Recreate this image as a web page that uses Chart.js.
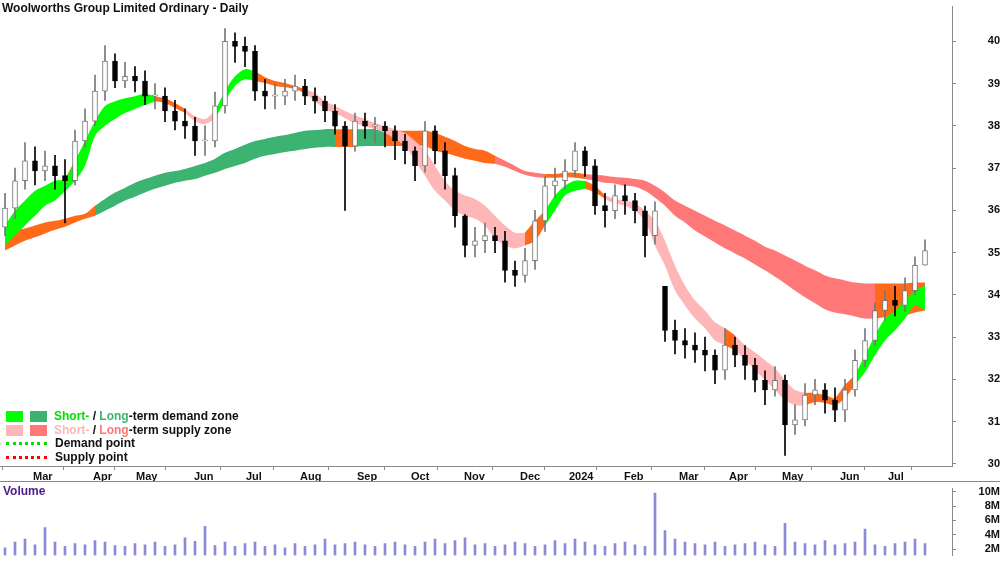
<!DOCTYPE html>
<html>
<head>
<meta charset="utf-8">
<script src="https://cdn.jsdelivr.net/npm/chart.js@4"></script>
<style>
  body { margin: 0; width: 1000px; height: 562px; background: #fff; font-family: Arial, "Liberation Sans", sans-serif; overflow: hidden; position: relative; }
  #price { position: absolute; left: 0; top: 0; }
  #vol { position: absolute; left: 0; top: 482px; }
  .sep { position: absolute; left: 0; top: 481px; width: 1000px; height: 1px; background: #888; }
  .titulo { position: absolute; left: 2px; top: 1px; font-size: 12px; font-weight: bold; color: #111; }
  .vol-label { position: absolute; left: 3px; top: 484px; font-size: 12px; font-weight: bold; color: #4b1a8a; }
  .leyenda { position: absolute; left: 6px; top: 410px; font-size: 12px; font-weight: bold; color: #111; line-height: 13.5px; }
  .leyenda div { display: flex; align-items: center; height: 13.5px; }
  .sw { display: inline-block; width: 17px; height: 11px; margin-right: 7px; }
  .dot { display: inline-block; width: 41px; margin-right: 8px; border-top: 3px dotted; }
</style>
</head>
<body>
<canvas id="price" width="1000" height="481" style="width:1000px;height:481px"></canvas>
<div class="sep"></div>
<canvas id="vol" width="1000" height="80" style="width:1000px;height:80px"></canvas>
<div class="titulo">Woolworths Group Limited Ordinary - Daily</div>
<div class="vol-label">Volume</div>
<div class="leyenda">
  <div><span class="sw" style="background:#00ff00"></span><span class="sw" style="background:#3cb371"></span><span style="color:#00e000">Short-</span>&nbsp;/&nbsp;<span style="color:#3cb371">Long</span>-term demand zone</div>
  <div><span class="sw" style="background:#ffb6b6"></span><span class="sw" style="background:#ff7777"></span><span style="color:#ffb6b6">Short-</span>&nbsp;/&nbsp;<span style="color:#ff7777">Long</span>-term supply zone</div>
  <div><span class="dot" style="border-color:#00dd00"></span>Demand point</div>
  <div><span class="dot" style="border-color:#ff0000"></span>Supply point</div>
</div>
<script>
const closes = [36.05,36.7,37.17,36.93,37.05,36.82,36.7,37.64,38.11,38.82,39.53,39.06,39.17,39.06,38.7,38.7,38.35,38.11,37.99,37.64,
  37.64,38.47,40.0,39.88,39.76,38.82,38.7,38.7,38.82,38.94,38.7,38.58,38.35,37.99,37.52,38.11,37.99,37.99,37.88,37.64,
  37.41,37.05,37.88,37.41,36.82,35.87,35.17,35.28,35.4,35.28,34.58,34.46,34.81,35.75,36.58,36.7,36.93,37.41,37.05,36.11,
  35.99,36.35,36.23,35.99,35.4,35.99,33.16,32.92,32.81,32.69,32.57,32.22,32.81,32.57,32.33,31.98,31.75,31.98,30.92,31.04,
  31.63,31.75,31.51,31.27,31.75,32.45,32.92,33.63,33.87,33.75,34.1,34.7,35.05];
const opens = [35.6,36.05,36.7,37.17,36.93,37.05,36.82,36.7,37.64,38.11,38.82,39.53,39.06,39.17,39.06,38.7,38.7,38.35,38.11,37.99,
  37.64,37.64,38.47,40.0,39.88,39.76,38.82,38.7,38.7,38.82,38.94,38.7,38.58,38.35,37.99,37.52,38.11,37.99,37.99,37.88,
  37.64,37.41,37.05,37.88,37.41,36.82,35.87,35.17,35.28,35.4,35.28,34.58,34.46,34.81,35.75,36.58,36.7,36.93,37.41,37.05,
  36.11,35.99,36.35,36.23,35.99,35.4,34.2,33.16,32.92,32.81,32.69,32.57,32.22,32.81,32.57,32.33,31.98,31.75,31.98,30.92,
  31.04,31.63,31.75,31.51,31.27,31.75,32.45,32.92,33.63,33.87,33.75,34.1,34.7];
const highs = [36.4,37.0,37.6,37.5,37.4,37.3,37.2,37.9,38.4,39.2,39.9,39.7,39.5,39.4,39.3,39.0,38.9,38.6,38.4,38.2,
  38.0,38.8,40.3,40.2,40.1,39.9,39.1,39.0,39.1,39.2,39.1,38.9,38.7,38.5,38.1,38.3,38.3,38.2,38.1,38.0,
  37.8,37.5,38.1,38.0,37.6,37.0,35.9,35.6,35.7,35.6,35.5,34.8,35.1,36.0,36.8,37.0,37.2,37.6,37.5,37.2,
  36.4,36.6,36.6,36.4,36.1,36.2,34.1,33.4,33.2,33.1,33.0,32.7,33.2,33.0,32.8,32.5,32.2,32.3,32.1,31.4,
  31.9,32.0,31.9,31.8,32.0,32.7,33.2,33.8,34.1,34.2,34.4,34.9,35.3];
const lows = [35.4,35.8,36.5,36.6,36.7,36.5,35.7,36.6,37.5,38.0,38.6,38.9,38.9,38.8,38.5,38.4,38.1,37.9,37.7,37.3,
  37.3,37.5,38.3,39.5,39.4,38.6,38.4,38.4,38.5,38.6,38.5,38.3,38.1,37.8,36.0,37.4,37.7,37.6,37.5,37.2,
  37.1,36.7,36.9,37.1,36.5,35.6,34.9,34.9,35.0,35.0,34.3,34.2,34.3,34.6,35.5,36.3,36.5,36.8,36.8,35.9,
  35.6,35.8,35.9,35.7,34.9,35.2,32.9,32.6,32.5,32.4,32.2,31.9,32.0,32.3,32.0,31.7,31.4,31.6,30.2,30.7,
  30.9,31.4,31.2,31.0,31.0,31.6,32.3,32.8,33.4,33.5,33.6,34.0,34.7];
// short-term zone: upper/lower and state (g = demand, p = supply, o = overlap)
const shortTop = [35.64,35.99,36.23,36.46,36.58,36.70,36.74,37.17,37.64,38.11,38.47,38.58,38.65,38.70,38.75,38.70,38.65,38.54,38.40,38.23,
  38.16,38.35,38.82,39.17,39.34,39.29,39.15,39.06,39.01,38.94,38.87,38.77,38.58,38.47,38.35,38.25,38.16,38.06,37.99,37.92,
  37.83,37.64,37.41,37.05,36.70,36.46,36.35,36.27,36.11,35.87,35.64,35.47,35.47,35.75,35.99,36.35,36.58,36.70,36.70,36.58,
  36.35,36.27,36.23,36.16,35.99,35.75,35.28,34.69,34.22,33.87,33.63,33.35,33.21,33.04,32.81,32.64,32.45,32.26,31.98,31.75,
  31.68,31.68,31.63,31.56,31.87,32.10,32.57,33.04,33.44,33.63,33.87,34.10,34.22];
const shortBot = [35.17,35.40,35.64,35.87,36.11,36.23,36.46,36.70,37.05,37.76,38.00,38.16,38.30,38.40,38.49,38.58,38.54,38.42,38.30,38.11,
  38.04,38.16,38.58,38.94,39.10,39.06,39.01,38.94,38.91,38.87,38.77,38.58,38.40,38.30,38.18,38.06,37.99,37.92,37.83,37.69,
  37.52,37.17,36.82,36.46,36.23,35.99,35.87,35.80,35.64,35.33,35.17,35.10,35.17,35.28,35.64,35.99,36.35,36.46,36.51,36.42,
  36.27,36.16,36.11,35.99,35.75,35.17,34.69,34.10,33.75,33.44,33.21,32.92,32.81,32.69,32.45,32.22,31.98,31.75,31.51,31.39,
  31.39,31.46,31.44,31.39,31.56,31.87,32.17,32.57,32.92,33.16,33.44,33.75,33.63];
const shortState = ['g','g','g','g','g','g','o','g','g','g','g','g','g','g','g','o','o','o','p','p',
  'p','g','g','g','g','o','o','o','o','o','p','p','p','p','p','p','p','p','p','p',
  'p','p','p','p','p','p','p','p','p','p','p','p','o','o','g','g','g','g','o','o',
  'p','p','p','p','p','p','p','p','p','p','p','p','o','p','p','p','p','p','p','p',
  'o','o','o','p','o','g','g','g','g','g','g','g','g'];
// long-term zone: upper/lower and state (G = demand, P = supply, o = overlap)
const longTop = [35.40,35.52,35.57,35.64,35.71,35.75,35.80,35.87,35.92,36.11,36.27,36.42,36.53,36.65,36.74,36.82,36.89,36.93,36.98,37.05,
  37.12,37.22,37.36,37.45,37.55,37.64,37.69,37.74,37.78,37.83,37.88,37.90,37.92,37.92,37.92,37.92,37.92,37.92,37.88,37.88,
  37.88,37.88,37.88,37.83,37.74,37.64,37.52,37.45,37.41,37.29,37.17,37.05,36.93,36.89,36.86,36.86,36.89,36.89,36.86,36.84,
  36.82,36.79,36.77,36.74,36.70,36.58,36.42,36.23,36.11,35.99,35.87,35.75,35.64,35.52,35.40,35.28,35.14,35.05,34.93,34.81,
  34.69,34.58,34.46,34.39,34.34,34.29,34.27,34.27,34.27,34.27,34.27,34.29,34.29];
const longBot = [35.05,35.17,35.28,35.36,35.45,35.54,35.61,35.71,35.80,35.87,35.99,36.11,36.23,36.32,36.42,36.51,36.58,36.65,36.70,36.74,
  36.82,36.89,36.98,37.05,37.12,37.22,37.29,37.33,37.38,37.41,37.45,37.48,37.50,37.50,37.50,37.50,37.52,37.52,37.52,37.52,
  37.52,37.52,37.52,37.41,37.36,37.29,37.22,37.17,37.12,37.10,37.03,36.93,36.84,36.79,36.77,36.77,36.79,36.77,36.74,36.70,
  36.65,36.63,36.58,36.56,36.46,36.30,36.11,35.87,35.71,35.52,35.38,35.24,35.10,34.98,34.86,34.72,34.58,34.43,34.27,34.10,
  33.94,33.80,33.66,33.58,33.54,33.49,33.44,33.44,33.47,33.49,33.51,33.58,33.63];
const longState = ['o','o','o','o','o','o','o','o','o','G','G','G','G','G','G','G','G','G','G','G',
  'G','G','G','G','G','G','G','G','G','G','G','G','G','o','o','G','G','G','o','o',
  'o','o','o','o','o','o','o','o','o','P','P','P','P','P','o','o','o','o','P','P',
  'P','P','P','P','P','P','P','P','P','P','P','P','P','P','P','P','P','P','P','P',
  'P','P','P','P','P','P','P','o','o','o','o','o','o'];
const volumes = [2.2,3.0,3.4,2.6,5.0,3.0,2.4,2.8,2.6,3.2,3.0,2.5,2.4,2.8,2.6,3.0,2.4,2.6,3.6,3.1,
  5.2,2.5,3.0,2.4,2.8,3.0,2.4,2.6,2.2,2.8,2.4,2.6,3.4,2.6,2.8,3.0,2.6,2.4,2.8,3.0,
  2.6,2.4,3.0,3.4,2.8,3.2,3.6,2.6,2.8,2.4,2.6,3.0,2.8,2.4,2.6,3.2,2.8,3.4,3.0,2.6,
  2.4,2.8,3.0,2.6,2.4,9.8,4.6,3.4,3.0,2.8,2.6,3.0,2.4,2.6,2.8,3.0,2.6,2.4,5.6,3.0,
  2.8,2.6,3.2,2.6,2.8,3.0,4.8,2.6,2.4,2.8,3.0,3.4,2.8];
const monthTicks = [2.8,8.8,13.1,18.9,24.1,29.5,35.2,40.6,45.9,51.5,56.4,61.9,67.4,72.4,77.7,83.5,88.3];
const monthLabels = ['Mar','Apr','May','Jun','Jul','Aug','Sep','Oct','Nov','Dec','2024','Feb','Mar','Apr','May','Jun','Jul'];
const priceTicks = [30,31,32,33,34,35,36,37,38,39,40];
const volTicks = [2,4,6,8,10];

const colores = { g: '#00ff00', p: '#ffb6b6', o: '#ff6a1a', G: '#3cb371', P: '#ff7777' };
const X_MIN = -0.5, X_MAX = 94.7;
const VOL_MIN = 1.14, VOL_MAX = 10.43;

function bandDatasets(top, bot, states, order) {
    const out = [];
    [...new Set(states)].forEach(s => {
        const keep = i => states[i] === s || (i > 0 && states[i - 1] === s);
        const up = top.map((v, i) => ({ x: i, y: keep(i) ? v : null }));
        const dn = bot.map((v, i) => ({ x: i, y: keep(i) ? v : null }));
        out.push({ type: 'line', data: up, borderWidth: 0, pointRadius: 0, tension: 0.3, fill: false, order, spanGaps: false });
        out.push({ type: 'line', data: dn, borderWidth: 0, pointRadius: 0, tension: 0.3, fill: '-1',
            backgroundColor: colores[s], order, spanGaps: false });
    });
    return out;
}

// fix the plot box so both panels line up with the reference
const fixWidth = w => axis => { axis.width = w; };
const fixHeight = h => axis => { axis.height = h; };
const tickFont = { family: 'Arial', size: 11, weight: 'bold' };

const wicks = closes.map((c, i) => ({ x: i, y: [lows[i], highs[i]] }));
const bodies = closes.map((c, i) => ({ x: i, y: [Math.min(opens[i], c), Math.max(opens[i], c) + (opens[i] === c ? 0.03 : 0)] }));
const up = closes.map((c, i) => c >= opens[i]);

new Chart(document.getElementById('price'), {
    type: 'bar',
    data: {
        datasets: [
            ...bandDatasets(longTop, longBot, longState, 5),
            ...bandDatasets(shortTop, shortBot, shortState, 4),
            { data: wicks, grouped: false, barThickness: 1, backgroundColor: up.map(u => u ? '#777' : '#000'), order: 2 },
            { data: bodies, grouped: false, barThickness: 5, backgroundColor: up.map(u => u ? '#fff' : '#000'),
              borderColor: up.map(u => u ? '#777' : '#000'), borderWidth: 1, borderSkipped: false, order: 1 }
        ]
    },
    options: {
        responsive: false, animation: false, devicePixelRatio: 1,
        layout: { padding: 0, autoPadding: false },
        plugins: { legend: { display: false }, tooltip: { enabled: false } },
        scales: {
            x: {
                type: 'linear', min: X_MIN, max: X_MAX, offset: false,
                afterBuildTicks: s => { s.ticks = monthTicks.map(v => ({ value: v })); },
                afterFit: fixHeight(15),
                ticks: { callback: (v, i) => monthLabels[i], align: 'start', color: '#111', font: tickFont, padding: 0, maxRotation: 0, autoSkip: false },
                grid: { drawOnChartArea: false, tickLength: 4, color: '#888' },
                border: { color: '#888' }
            },
            y: {
                position: 'right', min: 29.95, max: 40.82,
                afterBuildTicks: s => { s.ticks = priceTicks.map(v => ({ value: v })); },
                afterFit: fixWidth(48),
                ticks: { color: '#111', font: tickFont, padding: 0, crossAlign: 'far', autoSkip: false },
                grid: { drawOnChartArea: false, tickLength: 4, color: '#888' },
                border: { color: '#888' }
            }
        }
    }
});

new Chart(document.getElementById('vol'), {
    type: 'bar',
    data: {
        datasets: [{ data: volumes.map((v, i) => ({ x: i, y: [VOL_MIN, v] })), barThickness: 2, backgroundColor: '#8a8ad6', borderSkipped: false }]
    },
    options: {
        responsive: false, animation: false, devicePixelRatio: 1,
        layout: { padding: 0, autoPadding: false },
        plugins: { legend: { display: false }, tooltip: { enabled: false } },
        scales: {
            x: { type: 'linear', min: X_MIN, max: X_MAX, offset: false, display: false },
            y: {
                position: 'right', min: VOL_MIN, max: VOL_MAX,
                afterBuildTicks: s => { s.ticks = volTicks.map(v => ({ value: v })); },
                afterFit: fixWidth(48),
                ticks: { color: '#111', font: tickFont, padding: 0, crossAlign: 'far', autoSkip: false, callback: v => v + 'M' },
                grid: { drawOnChartArea: false, tickLength: 4, color: '#888' },
                border: { color: '#888' }
            }
        }
    }
});
</script>
</body>
</html>
